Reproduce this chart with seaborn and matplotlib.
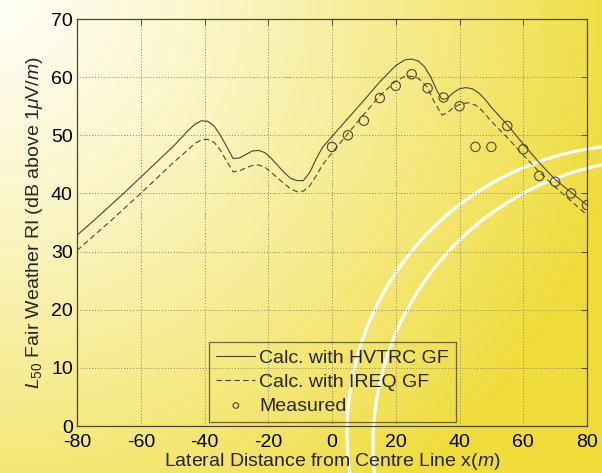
import numpy as np
import pandas as pd
import matplotlib
matplotlib.use("Agg")
import matplotlib.pyplot as plt
from matplotlib.patches import Circle
import seaborn as sns

# Calculated L50 with the HVTRC ground-factor model
x_hvtrc = [-80, -75, -70, -65, -60, -55, -50, -47, -45, -43, -41, -39, -37, -35, -33,
           -31, -29, -27, -25, -23, -21, -19, -17, -15, -13, -11, -9, -7, -5, -3,
           0, 5, 10, 15, 20, 23, 25, 27, 29, 31, 33, 34.5, 36, 38, 40, 42, 44, 46,
           48, 50, 55, 60, 65, 70, 75, 80]
y_hvtrc = [32.8, 35.2, 37.7, 40.2, 42.8, 45.4, 48.0, 49.7, 50.9, 51.9, 52.5, 52.4, 51.6,
           50.0, 48.0, 46.0, 46.1, 46.7, 47.3, 47.4, 47.0, 46.0, 44.8, 43.6, 42.6, 42.2,
           42.2, 43.6, 45.9, 47.9, 49.8, 52.9, 56.0, 59.2, 62.0, 63.0, 63.1, 62.8, 61.8,
           60.0, 57.6, 56.2, 56.3, 57.3, 58.0, 58.2, 58.0, 57.3, 56.2, 54.8, 51.8, 48.5,
           45.3, 42.4, 40.2, 38.0]

# Calculated L50 with the IREQ ground-factor model
x_ireq = [-80, -75, -70, -65, -60, -55, -50, -45, -43, -41, -39, -37, -35, -33, -31,
          -29, -27, -25, -23, -21, -19, -17, -15, -13, -11, -9, -7, -5, -3, 0, 5, 10,
          15, 20, 23, 26, 28, 30, 32, 34.5, 36, 38, 40, 42.5, 45, 47, 50, 55, 60, 65,
          70, 75, 80]
y_ireq = [30.2, 32.6, 35.0, 37.5, 40.0, 42.6, 45.2, 47.6, 48.6, 49.2, 49.3, 48.8, 47.4,
          45.5, 43.7, 43.9, 44.4, 44.8, 44.9, 44.5, 43.6, 42.6, 41.7, 40.8, 40.3, 40.4,
          41.3, 43.0, 44.9, 47.0, 50.3, 53.6, 56.8, 59.3, 60.2, 60.1, 59.4, 58.2, 55.8,
          53.5, 53.8, 54.7, 55.3, 55.6, 55.2, 54.3, 52.4, 49.6, 46.6, 43.7, 41.1, 38.7,
          36.3]

# Field measurements
x_meas = [0, 5, 10, 15, 20, 25, 30, 35, 40, 45, 50, 55, 60, 65, 70, 75, 80]
y_meas = [48.0, 50.0, 52.5, 56.4, 58.5, 60.5, 58.1, 56.5, 55.0, 48.0, 48.0, 51.6,
          47.6, 43.0, 42.0, 40.0, 38.0]

x_ticks = [-80, -60, -40, -20, 0, 20, 40, 60, 80]
y_ticks = [0, 10, 20, 30, 40, 50, 60, 70]

labels = ["Calc. with HVTRC GF", "Calc. with IREQ GF", "Measured"]

df_h = pd.DataFrame({"x": x_hvtrc, "y": y_hvtrc})
df_i = pd.DataFrame({"x": x_ireq, "y": y_ireq})
df_m = pd.DataFrame({"x": x_meas, "y": y_meas})

sns.set_theme(style="white")
plt.rcParams["font.family"] = ["Liberation Sans", "DejaVu Sans"]
plt.rcParams["axes.unicode_minus"] = False
plt.rcParams["mathtext.fontset"] = "custom"
plt.rcParams["mathtext.rm"] = "Liberation Sans"
plt.rcParams["mathtext.it"] = "Liberation Sans:italic"
plt.rcParams["mathtext.bf"] = "Liberation Sans:bold"

FS = 14
W, H = 602, 473
fig = plt.figure(figsize=(W / 100, H / 100), dpi=100)

# Decorative backdrop: white-to-yellow radial wash with two white arcs
bg = fig.add_axes([0, 0, 1, 1], zorder=0)
yy, xx = np.mgrid[0:H, 0:W]
d = np.sqrt(xx ** 2 + yy ** 2)
s = np.clip(d / 640.0, 0, 1) ** 1.25
c0 = np.array([255, 254, 245]) / 255.0
c1 = np.array([239, 220, 58]) / 255.0
img = c0[None, None, :] * (1 - s[..., None]) + c1[None, None, :] * s[..., None]
bg.imshow(img, extent=(0, W, H, 0), aspect="auto", interpolation="bilinear")
for (cx, cy, r) in [(635, 433, 288), (659, 445, 286)]:
    bg.add_patch(Circle((cx, cy), r, fill=False, edgecolor="white", linewidth=2.3))
bg.set_xlim(0, W)
bg.set_ylim(H, 0)
bg.axis("off")

ax = fig.add_axes([77 / W, (H - 426) / H, 510 / W, 407 / H], zorder=1)
ax.set_facecolor("none")

line_col = "#4a4632"
sns.lineplot(data=df_h, x="x", y="y", ax=ax, color=line_col, linewidth=0.8,
             label=labels[0], estimator=None, sort=False)
sns.lineplot(data=df_i, x="x", y="y", ax=ax, color=line_col, linewidth=0.8,
             linestyle=(0, (5, 3)), label=labels[1], estimator=None, sort=False)
sns.scatterplot(data=df_m, x="x", y="y", ax=ax, marker="o", s=45,
                facecolor="none", edgecolor=line_col, linewidth=0.8,
                label=labels[2])

ax.set_xlim(-80, 80)
ax.set_ylim(0, 70)
ax.set_xticks(x_ticks)
ax.set_yticks(y_ticks)
ax.grid(True, linestyle=(0, (1, 2)), color="#8c8450", linewidth=0.7)
ax.tick_params(direction="in", length=4, width=0.7, colors="#4a4632",
               labelcolor="black", labelsize=FS, top=True, right=True,
               pad=3)
ax.tick_params(axis="x", pad=5.5)
for sp in ax.spines.values():
    sp.set_color("#4a4632")
    sp.set_linewidth(0.9)

ax.set_xlabel(r"Lateral Distance from Centre Line x($\mathit{m}$)", fontsize=FS,
              labelpad=0)
ax.set_ylabel(r"$\mathit{L_{50}}$ Fair Weather RI (dB above 1$\mathit{\mu}$V/$\mathit{m}$)",
              fontsize=FS, labelpad=4)

leg = ax.legend(loc="lower left", bbox_to_anchor=((209 - 77) / 510, 4 / 407),
                borderaxespad=0, frameon=True, fancybox=False, fontsize=FS,
                handlelength=2.0, handletextpad=0.2, labelspacing=0.33,
                borderpad=0.38, markerscale=0.6)
leg.get_frame().set_facecolor("none")
leg.get_frame().set_edgecolor("#4a4632")
leg.get_frame().set_linewidth(0.9)

fig.savefig("out.png", dpi=100)
